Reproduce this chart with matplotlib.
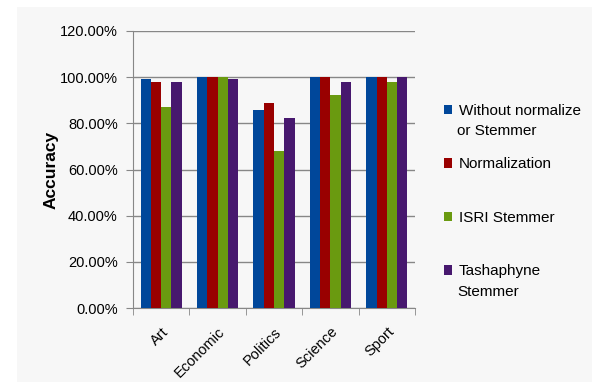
import numpy as np
import matplotlib.pyplot as plt
from matplotlib.patches import Rectangle, Patch

plt.rcParams['font.family'] = ['Liberation Sans', 'DejaVu Sans']

# 数据
categories = ['Art', 'Economic', 'Politics', 'Science', 'Sport']
series_names = ['Without normalize', 'Normalization', 'ISRI Stemmer', 'Tashaphyne']
series_extra = ['or Stemmer', '', '', 'Stemmer']
without_norm = [0.990, 1.000, 0.857, 1.000, 1.000]
normalization = [0.978, 1.000, 0.886, 1.000, 1.000]
isri = [0.869, 1.000, 0.678, 0.922, 0.978]
tashaphyne = [0.978, 0.990, 0.822, 0.978, 1.000]
yticks = [0.0, 0.2, 0.4, 0.6, 0.8, 1.0, 1.2]

values = [without_norm, normalization, isri, tashaphyne]
colors = ['#00479a', '#990000', '#6a9a10', '#47186e']

fig = plt.figure(figsize=(5.92, 3.82), dpi=100)
fig.patch.set_facecolor('white')
# 灰色背景面板
fig.patches.append(Rectangle((17 / 592, 0), 1, 1 - 7 / 382, transform=fig.transFigure,
                             facecolor='#f7f7f7', edgecolor='none', zorder=-10))

ax = fig.add_axes([133 / 592, 1 - 308 / 382, (415 - 133) / 592, (308 - 31) / 382])
ax.set_facecolor('none')

x = np.arange(len(categories))
w = 0.1825
for i, (vals, c) in enumerate(zip(values, colors)):
    ax.bar(x + (i - 1.5) * w, vals, width=w, color=c, zorder=3)

ax.set_xlim(-0.5, len(categories) - 0.5)
ax.set_ylim(0, 1.2)
ax.set_yticks(yticks)
ax.set_yticklabels([f'{v * 100:.2f}%' for v in yticks], fontsize=10.5)
ax.yaxis.grid(True, color='#878787', linewidth=1.0, zorder=0)

ax.set_xticks(x)
ax.set_xticklabels(categories, rotation=45, ha='right', rotation_mode='anchor', fontsize=10.5)
ax.tick_params(axis='x', length=0, pad=12)
ax.set_xticks(np.arange(-0.5, len(categories)), minor=True)
ax.tick_params(axis='x', which='minor', length=5, color='#878787')
ax.tick_params(axis='y', length=5, color='#878787', pad=6)

for s in ['top', 'right']:
    ax.spines[s].set_visible(False)
for s in ['left', 'bottom']:
    ax.spines[s].set_color('#878787')

ax.set_ylabel('Accuracy', fontsize=12.5, fontweight='bold', labelpad=1)

handles = [Patch(facecolor=c) for c in colors]
fig.legend(handles, series_names, loc='upper left', bbox_to_anchor=(444 / 592, 1 - 104 / 382),
           frameon=False, fontsize=11, handlelength=0.55, handleheight=0.6,
           handletextpad=0.4, labelspacing=2.58, borderpad=0, borderaxespad=0)
fig.text(457 / 592, 1 - 131 / 382, series_extra[0], fontsize=11, va='center')
fig.text(457 / 592, 1 - 292 / 382, series_extra[3], fontsize=11, va='center')

plt.savefig('out.png', dpi=100)
